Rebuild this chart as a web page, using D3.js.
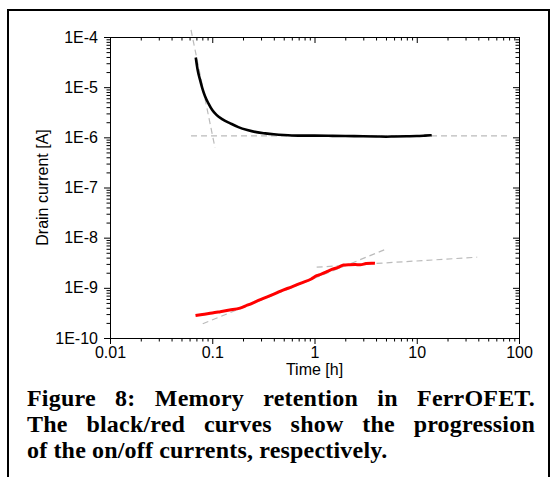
<!DOCTYPE html>
<html>
<head>
<meta charset="utf-8">
<script src="https://cdn.jsdelivr.net/npm/d3@7"></script>
<style>
  body { margin: 0; background: #fff; }
  svg { display: block; }
</style>
</head>
<body>
<script>
const w = 554;
const h = 477;

// on current (black) and off current (red)
const onTime = [0.069, 0.072, 0.076, 0.08, 0.085, 0.092, 0.1, 0.11, 0.125, 0.15, 0.18, 0.22, 0.27, 0.33, 0.4, 0.5, 0.6, 0.8, 1.0, 1.5, 2, 3, 4, 5, 6, 8, 10, 12, 14];
const onCurrent = [3.9e-5, 2.2e-5, 1.4e-5, 9.5e-6, 6.6e-6, 4.7e-6, 3.5e-6, 2.8e-6, 2.3e-6, 1.9e-6, 1.6e-6, 1.4e-6, 1.27e-6, 1.2e-6, 1.15e-6, 1.11e-6, 1.09e-6, 1.08e-6, 1.08e-6, 1.07e-6, 1.06e-6, 1.05e-6, 1.04e-6, 1.03e-6, 1.04e-6, 1.05e-6, 1.06e-6, 1.08e-6, 1.1e-6];

const offTime = [0.0686, 0.08, 0.1, 0.12, 0.148, 0.187, 0.22, 0.3, 0.4, 0.46, 0.6, 0.75, 0.93, 1.05, 1.15, 1.32, 1.5, 1.74, 1.92, 2.2, 2.5, 2.8, 3.2, 3.6, 3.9];
const offCurrent = [2.8e-10, 2.95e-10, 3.15e-10, 3.35e-10, 3.6e-10, 3.94e-10, 4.5e-10, 5.9e-10, 7.5e-10, 8.5e-10, 1.05e-9, 1.26e-9, 1.5e-9, 1.75e-9, 1.85e-9, 2.1e-9, 2.35e-9, 2.6e-9, 2.85e-9, 2.9e-9, 2.92e-9, 2.88e-9, 3.05e-9, 3.1e-9, 3.08e-9];

// grey dashed fit lines: [t1, I1, t2, I2]
const fitLines = [
  [0.062, 1.38e-4, 0.1065, 6.15e-7],
  [0.062, 1.07e-6, 80, 1.07e-6],
  [0.0807, 1.92e-10, 4.8, 5.7e-9],
  [1.05, 2.58e-9, 39, 4.08e-9]
];

const xTicks = [0.01, 0.1, 1, 10, 100];
const xLabels = ["0.01", "0.1", "1", "10", "100"];
const yTicks = [1e-10, 1e-9, 1e-8, 1e-7, 1e-6, 1e-5, 1e-4];
const yLabels = ["1E-10", "1E-9", "1E-8", "1E-7", "1E-6", "1E-5", "1E-4"];

const xTitle = "Time [h]";
const yTitle = "Drain current [A]";
const caption = [
  "Figure 8: Memory retention in FerrOFET.",
  "The black/red curves show the progression",
  "of the on/off currents, respectively."
];

let svg = d3.select("body")
  .append("svg")
  .attr("width", w)
  .attr("height", h);

// outer frame (open at the bottom)
svg.append("path")
  .attr("d", "M8,477V10H549V477")
  .attr("fill", "none")
  .attr("stroke", "#000")
  .attr("stroke-width", 2);

const pLeft = 110, pRight = 519, pTop = 37, pBottom = 338;

let x = d3.scaleLog().domain([0.01, 100]).range([pLeft, pRight]);
let y = d3.scaleLog().domain([1e-10, 1e-4]).range([pBottom, pTop]);

// minor ticks 2..9 of each decade
function minors(lo, hi) {
  let out = [];
  for (let e = lo; e < hi; e++)
    for (let k = 2; k <= 9; k++) out.push(k * Math.pow(10, e));
  return out;
}
const xMinor = minors(-2, 2);
const yMinor = minors(-10, -4);

const font = "'Liberation Sans', Arial, sans-serif";
const fs = 16;

function styleAxis(g) {
  g.select(".domain").attr("stroke", "#000").attr("stroke-width", 1);
  g.selectAll(".tick line").attr("stroke", "#000").attr("stroke-width", 1);
  g.selectAll("text").attr("font-family", font).attr("font-size", fs).attr("fill", "#000");
}

// bottom: ticks out
svg.append("g").attr("transform", `translate(0,${pBottom})`)
  .call(d3.axisBottom(x).tickValues(xMinor).tickSize(3.5).tickSizeOuter(0).tickFormat(""))
  .call(styleAxis);
svg.append("g").attr("transform", `translate(0,${pBottom})`)
  .call(d3.axisBottom(x).tickValues(xTicks).tickSize(6).tickSizeOuter(0).tickPadding(3)
    .tickFormat((d, i) => xLabels[i]))
  .call(styleAxis);

// top: ticks in
svg.append("g").attr("transform", `translate(0,${pTop})`)
  .call(d3.axisTop(x).tickValues(xMinor).tickSize(-3.5).tickSizeOuter(0).tickFormat(""))
  .call(styleAxis);
svg.append("g").attr("transform", `translate(0,${pTop})`)
  .call(d3.axisTop(x).tickValues(xTicks).tickSize(-6).tickSizeOuter(0).tickFormat(""))
  .call(styleAxis);

// left: ticks out
svg.append("g").attr("transform", `translate(${pLeft},0)`)
  .call(d3.axisLeft(y).tickValues(yMinor).tickSize(3.5).tickSizeOuter(0).tickFormat(""))
  .call(styleAxis);
svg.append("g").attr("transform", `translate(${pLeft},0)`)
  .call(d3.axisLeft(y).tickValues(yTicks).tickSize(6).tickSizeOuter(0).tickPadding(6)
    .tickFormat((d, i) => yLabels[i]))
  .call(styleAxis);

// right: ticks in
svg.append("g").attr("transform", `translate(${pRight},0)`)
  .call(d3.axisRight(y).tickValues(yMinor).tickSize(-3.5).tickSizeOuter(0).tickFormat(""))
  .call(styleAxis);
svg.append("g").attr("transform", `translate(${pRight},0)`)
  .call(d3.axisRight(y).tickValues(yTicks).tickSize(-6).tickSizeOuter(0).tickFormat(""))
  .call(styleAxis);

// axis titles
svg.append("text")
  .attr("x", (pLeft + pRight) / 2)
  .attr("y", 375)
  .attr("text-anchor", "middle")
  .attr("font-family", font)
  .attr("font-size", fs)
  .text(xTitle);

svg.append("text")
  .attr("transform", `translate(48,${(pTop + pBottom) / 2}) rotate(-90)`)
  .attr("text-anchor", "middle")
  .attr("font-family", font)
  .attr("font-size", fs)
  .text(yTitle);

// dashed fits
svg.selectAll(".fit")
  .data(fitLines)
  .enter()
  .append("line")
  .attr("class", "fit")
  .attr("x1", d => x(d[0]))
  .attr("y1", d => y(d[1]))
  .attr("x2", d => x(d[2]))
  .attr("y2", d => y(d[3]))
  .attr("stroke", "#bbbbbb")
  .attr("stroke-width", 1.2)
  .attr("stroke-dasharray", "6,4");

let line = d3.line()
  .curve(d3.curveMonotoneX)
  .x(d => x(d[0]))
  .y(d => y(d[1]));

svg.append("path")
  .datum(d3.zip(onTime, onCurrent))
  .attr("d", line)
  .attr("fill", "none")
  .attr("stroke", "#000")
  .attr("stroke-width", 2.6)
  .attr("stroke-linejoin", "round");

svg.append("path")
  .datum(d3.zip(offTime, offCurrent))
  .attr("d", line)
  .attr("fill", "none")
  .attr("stroke", "#ff0000")
  .attr("stroke-width", 3)
  .attr("stroke-linejoin", "round");

// justified caption
const capLeft = 27, capRight = 535;
const capBase = [406, 432, 458];
caption.forEach((txt, li) => {
  let words = txt.split(" ");
  let g = svg.append("text")
    .attr("font-family", "'Liberation Serif', 'Times New Roman', serif")
    .attr("font-weight", "bold")
    .attr("font-size", 24)
    .attr("letter-spacing", 0.2)
    .attr("y", capBase[li]);
  let spans = words.map(wd => g.append("tspan").text(wd));
  let widths = spans.map(s => s.node().getComputedTextLength());
  let total = d3.sum(widths);
  let last = li === caption.length - 1;
  let gap = last ? 6 : (capRight - capLeft - total) / (words.length - 1);
  let cx = capLeft;
  spans.forEach((s, i) => {
    s.attr("x", cx);
    cx += widths[i] + gap;
  });
});
</script>
</body>
</html>
